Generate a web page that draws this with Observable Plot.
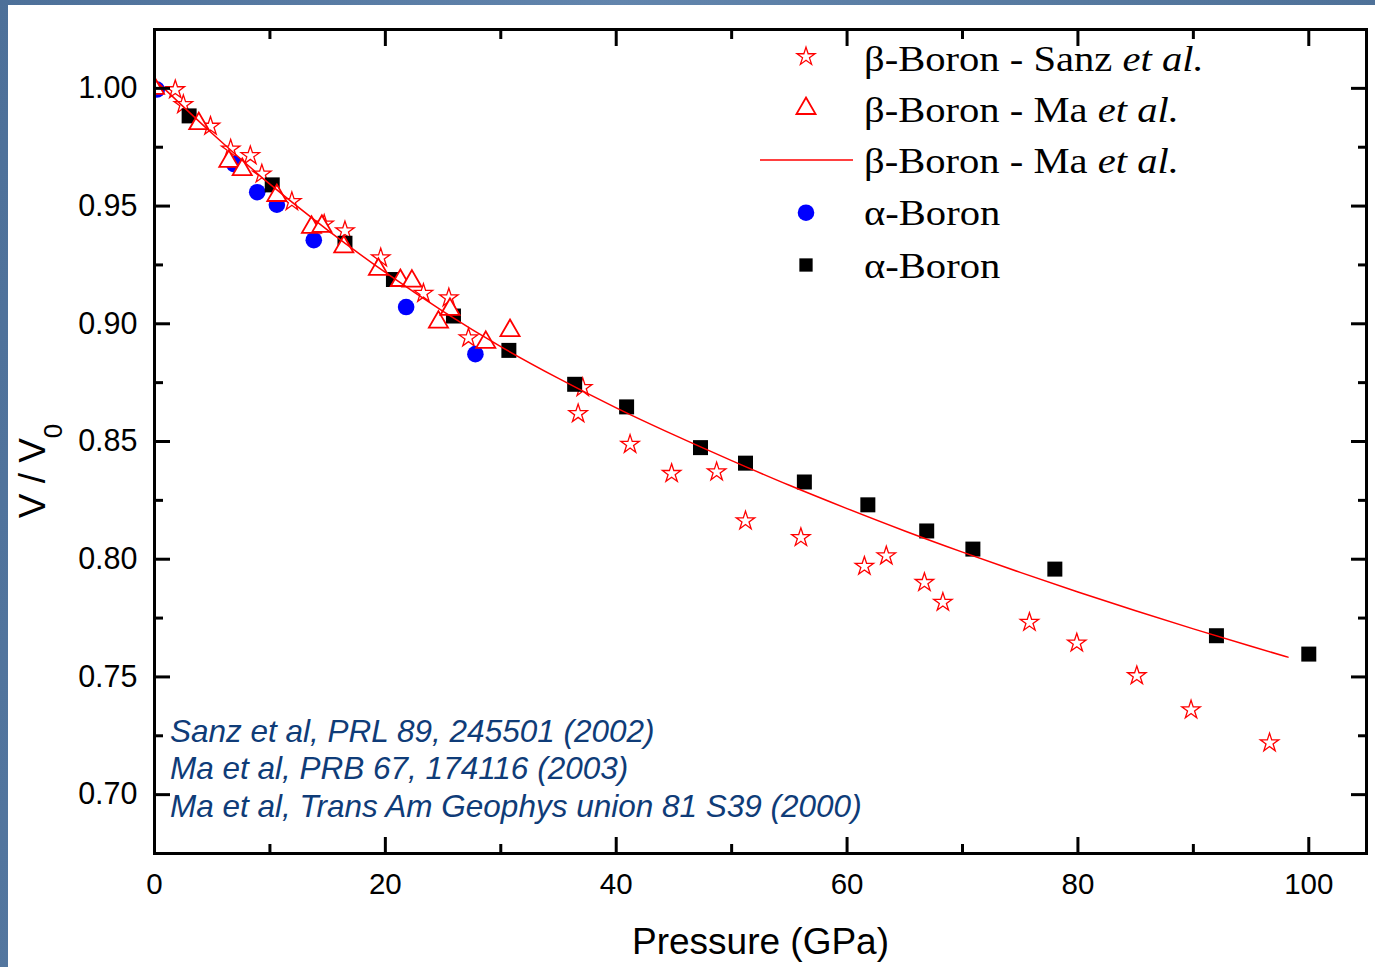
<!DOCTYPE html>
<html>
<head>
<meta charset="utf-8">
<script src="https://cdn.jsdelivr.net/npm/d3@7"></script>
<script src="https://cdn.jsdelivr.net/npm/@observablehq/plot@0.6"></script>
<style>
  html, body { margin: 0; padding: 0; }
  body {
    width: 1375px; height: 967px; overflow: hidden; position: relative;
    background: linear-gradient(100deg, #4d7099 0%, #6285ad 40%, #56799f 70%, #4a6d95 100%);
  }
  #panel { position: absolute; left: 8px; top: 5px; width: 1367px; height: 962px; background: #fff; }
</style>
</head>
<body>
<div id="panel"></div>
<script>
// β-boron, Sanz et al. (stars)
const sanzP = [1.8, 2.5, 4.85, 6.6, 8.3, 9.3, 11.9, 14.7, 16.5, 19.6, 23.3, 25.5, 27.2,
               37.1, 36.7, 41.2, 44.8, 48.7, 51.2, 56.0, 61.5, 63.4, 66.7, 68.3,
               75.8, 79.9, 85.1, 89.8, 96.6];
const sanzV = [0.9994, 0.9931, 0.9839, 0.9742, 0.9714, 0.9636, 0.9519, 0.9423, 0.9395, 0.9280, 0.9129, 0.9110, 0.8940,
               0.8729, 0.8618, 0.8488, 0.8364, 0.8371, 0.8163, 0.8092, 0.7970, 0.8014, 0.7901, 0.7817,
               0.7732, 0.7644, 0.7505, 0.7360, 0.7220];

// β-boron, Ma et al. (triangles)
const maP = [0.0, 3.84, 6.44, 7.6, 10.6, 13.6, 14.5, 16.4, 19.4, 21.3, 22.3, 24.6, 25.6, 28.7, 30.8];
const maV = [1.000, 0.9850, 0.9690, 0.9655, 0.9545, 0.9410, 0.9414, 0.9327, 0.9231, 0.9184, 0.9181, 0.9007, 0.9061, 0.8921, 0.8971];

// β-boron, Ma et al. equation-of-state curve
const fitP = [0, 5, 10, 15, 20, 25, 30, 35, 40, 45, 50, 55, 60, 65, 70, 75, 80, 85, 90, 95, 98.2];
const fitV = [1.0038, 0.9808, 0.9593, 0.9398, 0.9218, 0.9053, 0.8903, 0.8768, 0.8643, 0.8528, 0.8419,
              0.8314, 0.8215, 0.8120, 0.8030, 0.7944, 0.7861, 0.7781, 0.7704, 0.7630, 0.7584];

// α-boron (circles)
const alphaDotP = [0.2, 6.9, 8.9, 10.6, 13.8, 21.8, 27.8];
const alphaDotV = [0.9995, 0.9678, 0.9559, 0.9506, 0.9355, 0.9071, 0.8871];

// α-boron (squares)
const alphaSqP = [3.0, 10.2, 16.5, 20.7, 25.9, 30.7, 36.4, 40.9, 47.3, 51.2, 56.3, 61.8, 66.9, 70.9, 78.0, 92.0, 100.0];
const alphaSqV = [0.9883, 0.9590, 0.9342, 0.9188, 0.9033, 0.8887, 0.8743, 0.8647, 0.8474, 0.8408, 0.8328, 0.8231,
                  0.8120, 0.8043, 0.7958, 0.7675, 0.7597];

// Axis ticks
const xMajor = [0, 20, 40, 60, 80, 100];
const xMinor = [10, 30, 50, 70, 90];
const yMajor = [0.70, 0.75, 0.80, 0.85, 0.90, 0.95, 1.00];
const yMinor = [0.725, 0.775, 0.825, 0.875, 0.925, 0.975];

const xTitle = "Pressure (GPa)";
const yTitle = "V / V";
const yTitleSub = "0";

const legendNames  = ["β-Boron - Sanz ", "β-Boron - Ma ", "β-Boron - Ma ", "α-Boron", "α-Boron"];
const legendItalic = ["et al.", "et al.", "et al.", "", ""];
const legendKinds  = ["star", "triangle", "line", "circle", "square"];

const references = [
  "Sanz et al, PRL 89, 245501 (2002)",
  "Ma et al, PRB 67, 174116 (2003)",
  "Ma et al, Trans Am Geophys union 81 S39 (2000)"
];

const zip = (P, V) => P.map((p, i) => ({P: p, V: V[i]}));

const W = 1367, H = 962;
const sans = "'Liberation Sans', Arial, Helvetica, sans-serif";
const serif = "'Liberation Serif', 'Times New Roman', Times, serif";

const tickOpts = {stroke: "black", strokeWidth: 3, tickFormat: () => "", label: null};

const chart = Plot.plot({
  width: W, height: H,
  marginLeft: 146, marginRight: 9, marginTop: 24, marginBottom: 114,
  x: {domain: [0, 105], label: null},
  y: {domain: [0.675, 1.025], label: null},
  style: {background: "white", color: "black", fontFamily: sans, overflow: "visible"},
  marks: [
    Plot.dot(zip(sanzP, sanzV), {x: "P", y: "V", symbol: "star", r: 5.8, stroke: "#ff0000", strokeWidth: 1.3, fill: "none", clip: true}),
    Plot.dot(zip(alphaDotP, alphaDotV), {x: "P", y: "V", symbol: "circle", r: 8.3, fill: "#0000ff", clip: true}),
    Plot.dot(zip(alphaSqP, alphaSqV), {x: "P", y: "V", symbol: "square", r: 8.46, fill: "black", clip: true}),
    Plot.dot(zip(maP, maV), {x: "P", y: "V", symbol: "triangle", r: 7.1, stroke: "#ff0000", strokeWidth: 1.8, fill: "white", clip: true}),
    Plot.line(zip(fitP, fitV), {x: "P", y: "V", stroke: "#ff0000", strokeWidth: 1.5, curve: "monotone-x", clip: true}),

    // inward ticks on all four sides
    Plot.axisX(xMajor, {anchor: "bottom", tickSize: -16, ...tickOpts}),
    Plot.axisX(xMinor, {anchor: "bottom", tickSize: -9, ...tickOpts}),
    Plot.axisX(xMajor, {anchor: "top", tickSize: -16, ...tickOpts}),
    Plot.axisX(xMinor, {anchor: "top", tickSize: -9, ...tickOpts}),
    Plot.axisY(yMajor, {anchor: "left", tickSize: -16, ...tickOpts}),
    Plot.axisY(yMinor, {anchor: "left", tickSize: -9, ...tickOpts}),
    Plot.axisY(yMajor, {anchor: "right", tickSize: -16, ...tickOpts}),
    Plot.axisY(yMinor, {anchor: "right", tickSize: -9, ...tickOpts}),

    // tick labels
    Plot.axisX(xMajor, {anchor: "bottom", tickSize: 0, tickPadding: 20, fontSize: 29.5, label: null}),
    Plot.axisY(yMajor, {anchor: "left", tickSize: 0, tickPadding: 17, fontSize: 30.5, tickFormat: ".2f", label: null}),

    Plot.text([xTitle], {frameAnchor: "bottom", dy: 100, fontSize: 37, fill: "black"}),
    Plot.frame({stroke: "black", strokeWidth: 3})
  ]
});

document.getElementById("panel").appendChild(chart);

const svg = d3.select(chart);

// y-axis title with subscript
const yt = svg.append("text")
  .attr("transform", "translate(37,466) rotate(-90)")
  .attr("text-anchor", "middle")
  .attr("font-family", sans)
  .attr("font-size", 37)
  .attr("fill", "black");
yt.append("tspan").text(yTitle);
yt.append("tspan").attr("font-size", 26).attr("dy", 17).text(yTitleSub);

// legend
const legX = 798, legTextX = 856;
const symY = [51.7, 103.5, 155, 207.7, 260];
const baseY = [65.7, 116.7, 168.3, 220, 273.3];
const lg = svg.append("g").attr("text-anchor", "start");
legendKinds.forEach((kind, i) => {
  if (kind === "line") {
    lg.append("line").attr("x1", 752).attr("x2", 845).attr("y1", symY[i]).attr("y2", symY[i])
      .attr("stroke", "#ff0000").attr("stroke-width", 1.5);
  } else {
    const spec = {
      star: {t: d3.symbolStar, r: 5.7, fill: "none", stroke: "#ff0000", sw: 1.3},
      triangle: {t: d3.symbolTriangle, r: 7.1, fill: "white", stroke: "#ff0000", sw: 1.8},
      circle: {t: d3.symbolCircle, r: 8.3, fill: "#0000ff", stroke: "none", sw: 0},
      square: {t: d3.symbolSquare, r: 7.5, fill: "black", stroke: "none", sw: 0}
    }[kind];
    lg.append("path")
      .attr("transform", `translate(${legX},${symY[i]})`)
      .attr("d", d3.symbol(spec.t, Math.PI * spec.r * spec.r)())
      .attr("fill", spec.fill).attr("stroke", spec.stroke).attr("stroke-width", spec.sw);
  }
  const t = lg.append("text")
    .attr("text-anchor", "start")
    .attr("transform", `translate(${legTextX},${baseY[i]}) scale(1.16,1)`)
    .attr("font-family", serif).attr("font-size", 35).attr("fill", "black");
  t.append("tspan").text(legendNames[i]);
  if (legendItalic[i]) t.append("tspan").attr("font-style", "italic").text(legendItalic[i]);
});

// reference list
const refY = [737, 774, 812];
const rg = svg.append("g").attr("text-anchor", "start");
references.forEach((r, i) => {
  rg.append("text").attr("x", 162).attr("y", refY[i])
    .attr("text-anchor", "start")
    .attr("font-family", sans).attr("font-style", "italic").attr("font-size", 31.5)
    .attr("fill", "#0f3c78").text(r);
});
</script>
</body>
</html>
